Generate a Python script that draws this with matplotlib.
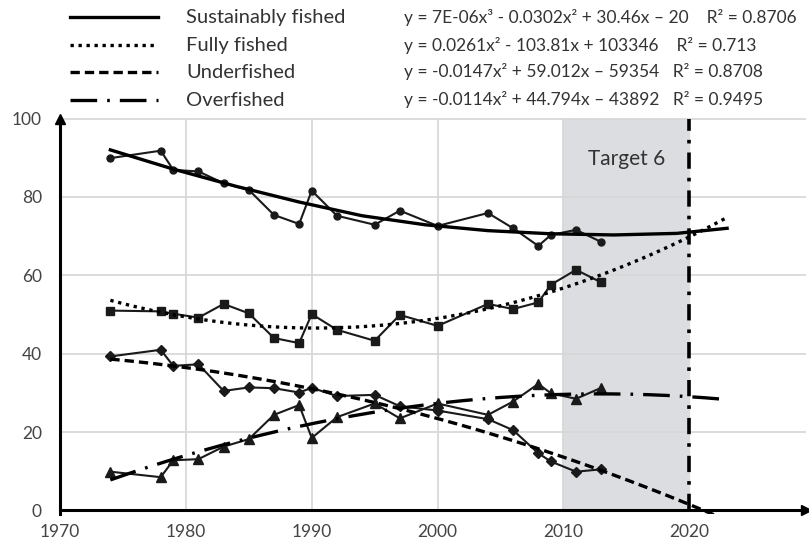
import numpy as np
import matplotlib
matplotlib.use("Agg")
from matplotlib import pyplot as plt
from matplotlib.lines import Line2D

plt.rcParams['font.family'] = ['Lato', 'DejaVu Sans']

# survey years and shares of stocks (%)
years = [1974, 1978, 1979, 1981, 1983, 1985, 1987, 1989, 1990, 1992,
         1995, 1997, 2000, 2004, 2006, 2008, 2009, 2011, 2013]
sustainable = [89.9, 91.8, 86.9, 86.5, 83.5, 81.8, 75.4, 73.1, 81.6, 75.2,
               72.9, 76.5, 72.6, 75.9, 72.0, 67.5, 70.3, 71.6, 68.5]
fully = [51.0, 50.8, 50.2, 49.2, 52.7, 50.3, 44.0, 42.7, 50.1, 46.1,
         43.3, 49.9, 47.1, 52.7, 51.4, 53.1, 57.6, 61.4, 58.2]
under = [39.3, 41.0, 36.9, 37.3, 30.5, 31.4, 31.2, 30.1, 31.3, 29.2,
         29.5, 26.6, 25.5, 23.3, 20.5, 14.6, 12.5, 9.9, 10.5]
over = [9.9, 8.5, 12.8, 13.1, 16.3, 18.2, 24.4, 26.9, 18.5, 23.8,
        27.3, 23.5, 27.3, 24.4, 27.8, 32.3, 29.9, 28.5, 31.3]

# the cubic trend for sustainably fished
sust_trend_years = [1974, 1979, 1984, 1989, 1994, 1999, 2004, 2009, 2014, 2019, 2023]
sust_trend = [92.0, 87.1, 82.7, 78.7, 75.2, 72.9, 71.4, 70.6, 70.3, 70.7, 72.0]

labels = ["Sustainably fished", "Fully fished", "Underfished", "Overfished"]
equations = [
    "y = 7E-06x\u00b3 - 0.0302x\u00b2 + 30.46x \u2013 20    R\u00b2 = 0.8706",
    "y = 0.0261x\u00b2 - 103.81x + 103346    R\u00b2 = 0.713",
    "y = -0.0147x\u00b2 + 59.012x \u2013 59354   R\u00b2 = 0.8708",
    "y = -0.0114x\u00b2 + 44.794x \u2013 43892   R\u00b2 = 0.9495",
]
trend_end = 2023
target_span = (2010, 2020)

series = [sustainable, fully, under, over]
markers = ["o", "s", "D", "^"]
msizes = [5, 6, 5, 7]
trend_styles = ["-", (0, (1, 1.4)), (0, (2.8, 1.5)), (0, (8, 3, 0.8, 3))]

fig = plt.figure(figsize=(8.09, 5.44), dpi=100)
ax = fig.add_axes([60 / 809, 0.0544, 746.4 / 809, 0.7349])
ax.set_xlim(1970, 2029.3)
ax.set_ylim(-1, 101)

# grid only inside 0..100
ax.hlines([20, 40, 60, 80, 100], 1970, 2029.3, color="#d6d6d6", lw=1.2, zorder=1)
ax.vlines([1980, 1990, 2000, 2010], 0, 100, color="#d6d6d6", lw=1.2, zorder=1)
ax.fill_between(target_span, 0, 100, color="#dcdde0", zorder=0)
ax.text(np.mean(target_span), 89.6, "Target 6", ha="center", va="center",
        fontsize=15, color="#333333")
ax.vlines(target_span[1], 0, 100, color="black", lw=2.6,
          linestyles=[(0, (4.5, 2.5, 1, 2.5))], zorder=5)

yrs = np.array(years)
xs = np.linspace(yrs.min(), trend_end, 300)
for i, (vals, mk, ms, ls) in enumerate(zip(series, markers, msizes, trend_styles)):
    ax.plot(years, vals, color="#1a1a1a", lw=1.5, marker=mk, ms=ms, zorder=3)
    if i == 0:
        ax.plot(sust_trend_years, sust_trend, color="black", lw=2.4,
                linestyle=ls, zorder=4)
    else:
        # Excel-style quadratic trendline, forecast forward
        fit = np.polynomial.Polynomial.fit(yrs, vals, 2)
        ax.plot(xs, fit(xs), color="black", lw=2.4, linestyle=ls, zorder=4)

# axes with arrows
for s in ["top", "right"]:
    ax.spines[s].set_visible(False)
ax.spines["bottom"].set_position(("data", 0))
ax.spines["left"].set_bounds(-1, 100)
ax.spines["left"].set_linewidth(2.2)
ax.spines["bottom"].set_linewidth(2.2)
ax.plot(1, 0, ">k", ms=7, transform=ax.get_yaxis_transform(), clip_on=False)
ax.plot(1970, 100, "^k", ms=7, clip_on=False)

ax.set_xticks([1970, 1980, 1990, 2000, 2010, 2020])
ax.set_yticks([0, 20, 40, 60, 80, 100])
ax.tick_params(axis="y", length=0, pad=13, labelsize=12.5, labelcolor="#444444")
ax.tick_params(axis="x", length=0, pad=10, labelsize=12.5, labelcolor="#444444")

# legend drawn above the plot
rows = [17, 45, 72, 100]
for row, lab, eq, ls in zip(rows, labels, equations, trend_styles):
    yf = 1 - row / 544
    fig.add_artist(Line2D([70 / 809, 158 / 809], [yf, yf], color="black",
                          lw=2.4, linestyle=ls, transform=fig.transFigure))
    fig.text(186 / 809, yf, lab, va="center", fontsize=14.5, color="#333333")
    fig.text(404 / 809, yf, eq, va="center", fontsize=12.5, color="#333333")

fig.savefig("out.png", dpi=100)
